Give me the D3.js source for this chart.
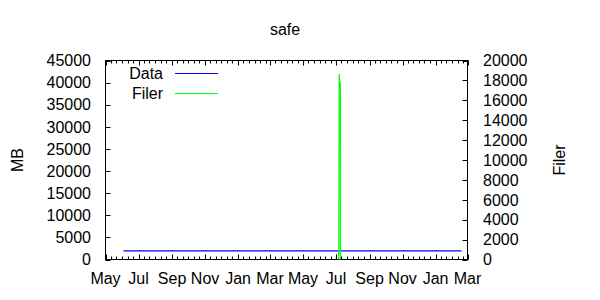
<!DOCTYPE html>
<html>
<head>
<meta charset="utf-8">
<script src="https://cdn.jsdelivr.net/npm/d3@7"></script>
<style>
  body { margin: 0; background: #fff; }
  text { font-family: "Liberation Sans", Arial, sans-serif; fill: #000; }
</style>
</head>
<body>
<div id="chart"></div>
<script>
// values
var xStart = "2008-05-01", xEnd = "2010-03-01";
var dataDates = ["2008-06-03", "2010-02-18"];
var dataValues = [1950, 1950];
var filerDates = ["2009-07-06", "2009-07-07", "2009-07-08", "2009-07-09", "2009-07-09"];
var filerValues = [0, 18650, 17750, 17750, 0];
var yTicks = [0, 5000, 10000, 15000, 20000, 25000, 30000, 35000, 40000, 45000];
var y2Ticks = [0, 2000, 4000, 6000, 8000, 10000, 12000, 14000, 16000, 18000, 20000];

window.onload = function() {
	var width = 600, height = 300;
	var left = 105.5, right = 467.5, top = 60.5, bottom = 259.5;
	var parse = d3.timeParse("%Y-%m-%d");

	var svg = d3.select("#chart").append("svg")
		.attr("width", width)
		.attr("height", height);

	var x = d3.scaleTime().domain([parse(xStart), parse(xEnd)]).range([left, right]);
	var y = d3.scaleLinear().domain([0, 45000]).range([bottom, top]);
	var y2 = d3.scaleLinear().domain([0, 20000]).range([bottom, top]);

	var fs = "16px";

	// border
	svg.append("rect")
		.attr("x", left).attr("y", top)
		.attr("width", right - left).attr("height", bottom - top)
		.style("fill", "none").style("stroke", "#000").style("stroke-width", 1);

	// x ticks: major every 2 months, minor on day 1, 11, 21
	var major = x.ticks(d3.timeMonth.every(2));
	var minor = [];
	d3.timeMonth.range(parse(xStart), d3.timeDay.offset(parse(xEnd), 1)).forEach(function(m) {
		[1, 11, 21].forEach(function(d) {
			var t = new Date(m.getFullYear(), m.getMonth(), d);
			if (t <= parse(xEnd)) minor.push(t);
		});
	});
	var tg = svg.append("g").style("stroke", "#000").style("stroke-width", 1);
	minor.forEach(function(t) {
		var px = Math.round(x(t)) + 0.5;
		tg.append("line").attr("x1", px).attr("x2", px).attr("y1", bottom).attr("y2", bottom - 3);
		tg.append("line").attr("x1", px).attr("x2", px).attr("y1", top).attr("y2", top + 3);
	});
	major.forEach(function(t) {
		var px = Math.round(x(t)) + 0.5;
		tg.append("line").attr("x1", px).attr("x2", px).attr("y1", bottom).attr("y2", bottom - 5);
		tg.append("line").attr("x1", px).attr("x2", px).attr("y1", top).attr("y2", top + 5);
	});
	svg.selectAll(".xlab").data(major).enter().append("text")
		.attr("class", "xlab")
		.attr("x", function(d) { return x(d); })
		.attr("y", 284)
		.attr("text-anchor", "middle")
		.style("font-size", fs)
		.text(d3.timeFormat("%b"));

	// left y axis
	yTicks.forEach(function(v) {
		var py = Math.round(y(v)) + 0.5;
		tg.append("line").attr("x1", left).attr("x2", left + 5).attr("y1", py).attr("y2", py);
	});
	svg.selectAll(".ylab").data(yTicks).enter().append("text")
		.attr("class", "ylab")
		.attr("x", 91)
		.attr("y", function(d) { return y(d); })
		.attr("dy", "0.36em")
		.attr("text-anchor", "end")
		.style("font-size", fs)
		.text(function(d) { return d; });

	// right y axis
	y2Ticks.forEach(function(v) {
		var py = Math.round(y2(v)) + 0.5;
		tg.append("line").attr("x1", right).attr("x2", right - 5).attr("y1", py).attr("y2", py);
	});
	svg.selectAll(".y2lab").data(y2Ticks).enter().append("text")
		.attr("class", "y2lab")
		.attr("x", 483)
		.attr("y", function(d) { return y2(d); })
		.attr("dy", "0.36em")
		.attr("text-anchor", "start")
		.style("font-size", fs)
		.text(function(d) { return d; });

	// axis titles
	svg.append("text")
		.attr("transform", "translate(23,160) rotate(-90)")
		.attr("text-anchor", "middle")
		.style("font-size", fs)
		.text("MB");
	svg.append("text")
		.attr("transform", "translate(565,160) rotate(-90)")
		.attr("text-anchor", "middle")
		.style("font-size", fs)
		.text("Filer");
	svg.append("text")
		.attr("x", 285).attr("y", 35)
		.attr("text-anchor", "middle")
		.style("font-size", fs)
		.text("safe");

	// series
	var dataPts = dataDates.map(function(d, i) { return [parse(d), dataValues[i]]; });
	var filerPts = filerDates.map(function(d, i) { return [parse(d), filerValues[i]]; });

	svg.append("path")
		.datum(dataPts)
		.attr("d", d3.line().x(function(d) { return x(d[0]); }).y(function(d) { return y(d[1]); }))
		.style("fill", "none").style("stroke", "#0000ff").style("stroke-width", 1.2);

	svg.append("path")
		.datum(filerPts)
		.attr("d", d3.line().x(function(d) { return x(d[0]); }).y(function(d) { return y2(d[1]); }))
		.style("fill", "none").style("stroke", "#00ff00").style("stroke-width", 1.2);

	// legend
	var legend = [["Data", "#0000ff", 73.5], ["Filer", "#00ff00", 93.5]];
	legend.forEach(function(l) {
		svg.append("text")
			.attr("x", 163).attr("y", l[2])
			.attr("dy", "0.36em")
			.attr("text-anchor", "end")
			.style("font-size", fs)
			.text(l[0]);
		svg.append("line")
			.attr("x1", 175).attr("x2", 218)
			.attr("y1", l[2]).attr("y2", l[2])
			.style("stroke", l[1]).style("stroke-width", 1);
	});
};
</script>
</body>
</html>
